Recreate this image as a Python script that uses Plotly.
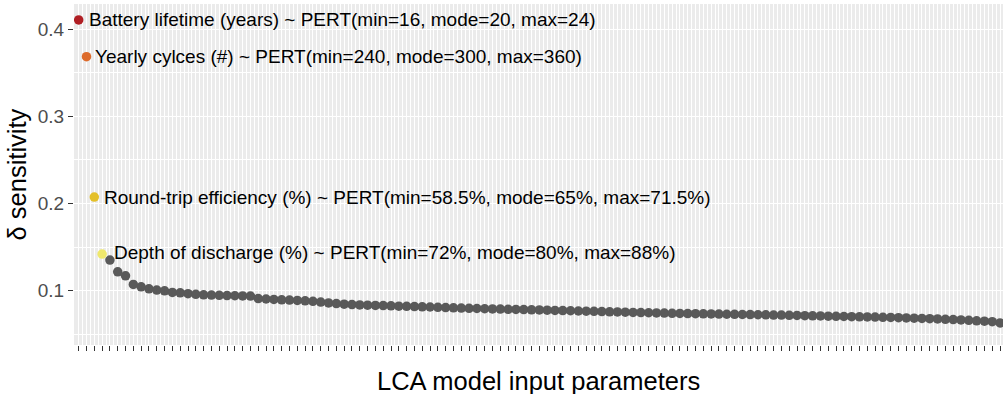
import plotly.graph_objects as go

# ---- data ----
param_rank = list(range(1, 120))
sensitivity = [
    0.4107, 0.3685, 0.2075, 0.1420, 0.1351, 0.1217, 0.1171, 0.1072, 0.1045, 0.1022,
    0.1007, 0.0999, 0.0980, 0.0976, 0.0966, 0.0958, 0.0953, 0.0950, 0.0947, 0.0944,
    0.0942, 0.0940, 0.0938, 0.0910, 0.0905, 0.0900, 0.0896, 0.0892, 0.0889, 0.0884,
    0.0878, 0.0870, 0.0860, 0.0852, 0.0846, 0.0841, 0.0837, 0.0834, 0.0831, 0.0829,
    0.0826, 0.0823, 0.0821, 0.0818, 0.0815, 0.0813, 0.0810, 0.0807, 0.0804, 0.0801,
    0.0798, 0.0796, 0.0793, 0.0791, 0.0789, 0.0787, 0.0785, 0.0783, 0.0781, 0.0779,
    0.0776, 0.0774, 0.0772, 0.0770, 0.0767, 0.0765, 0.0763, 0.0760, 0.0758, 0.0756,
    0.0754, 0.0751, 0.0749, 0.0747, 0.0745, 0.0743, 0.0741, 0.0739, 0.0738, 0.0736,
    0.0735, 0.0733, 0.0732, 0.0730, 0.0729, 0.0727, 0.0726, 0.0724, 0.0723, 0.0721,
    0.0720, 0.0718, 0.0716, 0.0714, 0.0712, 0.0710, 0.0708, 0.0706, 0.0704, 0.0702,
    0.0700, 0.0699, 0.0697, 0.0695, 0.0693, 0.0690, 0.0688, 0.0685, 0.0682, 0.0679,
    0.0676, 0.0672, 0.0669, 0.0665, 0.0660, 0.0655, 0.0650, 0.0645, 0.0630,
]
highlight_labels = [
    "Battery lifetime (years) ~ PERT(min=16, mode=20, max=24)",
    "Yearly cylces (#) ~ PERT(min=240, mode=300, max=360)",
    "Round-trip efficiency (%) ~ PERT(min=58.5%, mode=65%, max=71.5%)",
    "Depth of discharge (%) ~ PERT(min=72%, mode=80%, max=88%)",
]
highlight_colors = ["#B01F24", "#DD6B2C", "#E4C02A", "#EFE86C"]
other_color = "#595959"
y_ticks = [0.1, 0.2, 0.3, 0.4]
y_tick_labels = ["0.1", "0.2", "0.3", "0.4"]

n_hi = len(highlight_labels)
FONT = "Liberation Sans, Arial, Helvetica, sans-serif"

fig = go.Figure()
fig.add_trace(go.Scatter(
    x=param_rank[n_hi:], y=sensitivity[n_hi:], mode="markers",
    marker=dict(size=9.5, color=other_color, line=dict(width=0)),
    hoverinfo="x+y", showlegend=False,
))
fig.add_trace(go.Scatter(
    x=param_rank[:n_hi], y=sensitivity[:n_hi], mode="markers",
    marker=dict(size=9.5, color=highlight_colors, line=dict(width=0)),
    text=highlight_labels, hoverinfo="text", showlegend=False,
))

label_yshift = [0, 0, 0, 2]
label_xshift = [8, 7, 8, 10]
for i, lab in enumerate(highlight_labels):
    fig.add_annotation(
        x=param_rank[i], y=sensitivity[i], xref="x", yref="y",
        text=lab, showarrow=False, xanchor="left", yanchor="middle",
        xshift=label_xshift[i], yshift=label_yshift[i],
        font=dict(size=19, color="black", family=FONT),
    )

# axis titles
fig.add_annotation(
    x=0.5, y=0, xref="paper", yref="paper", text="LCA model input parameters",
    showarrow=False, xanchor="center", yanchor="middle", yshift=-36,
    font=dict(size=25.5, color="black", family=FONT),
)
fig.add_annotation(
    x=0, y=0.5, xref="paper", yref="paper", text="δ sensitivity",
    showarrow=False, xanchor="center", yanchor="middle", xshift=-58,
    textangle=-90, font=dict(size=25.5, color="black", family=FONT),
)

fig.update_layout(
    width=1003, height=394,
    margin=dict(l=74, r=0, t=4, b=49),
    paper_bgcolor="white", plot_bgcolor="#EBEBEB",
    font=dict(family=FONT),
    xaxis=dict(
        range=[0.4, 119.38], tickmode="linear", tick0=1, dtick=1,
        showticklabels=False, ticks="outside", ticklen=5, tickwidth=1,
        tickcolor="#333333", showgrid=True, gridcolor="white", gridwidth=1,
        zeroline=False, showline=False,
        minor=dict(tickmode="linear", tick0=0.5, dtick=1, showgrid=True,
                   gridcolor="white", gridwidth=0.5, ticks=""),
    ),
    yaxis=dict(
        range=[0.0377, 0.429], tickmode="array", tickvals=y_ticks,
        ticktext=y_tick_labels, ticks="outside", ticklen=5, tickwidth=1,
        tickcolor="#333333", tickfont=dict(size=19, color="#4D4D4D", family=FONT),
        showgrid=True, gridcolor="white", gridwidth=1.1,
        zeroline=False, showline=False,
        minor=dict(tickvals=[0.05, 0.15, 0.25, 0.35], showgrid=True,
                   gridcolor="white", gridwidth=0.5, ticks=""),
    ),
)

fig.write_html("out.html")
